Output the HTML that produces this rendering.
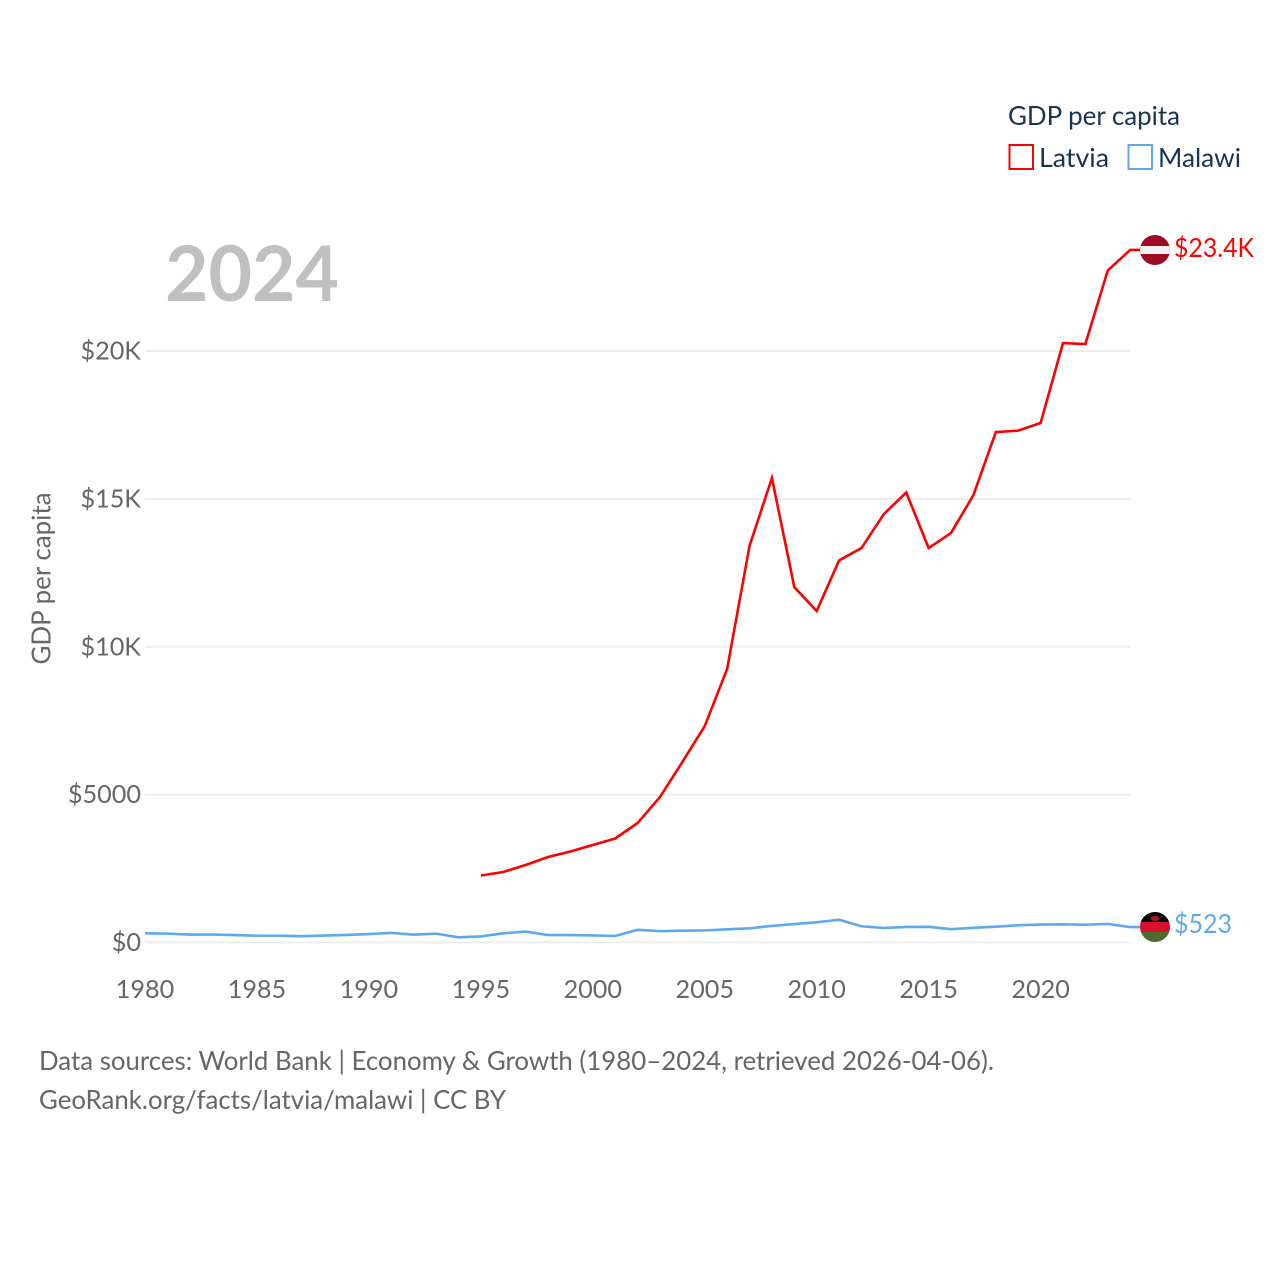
<!DOCTYPE html>
<html lang="en">
<head>
<meta charset="utf-8">
<title>GDP per capita: Latvia and Malawi</title>
<style>
html,body{margin:0;padding:0;background:#fff;}
svg{display:block;}
text{font-family:"Lato","Carlito","Liberation Sans",sans-serif;}
</style>
</head>
<body>
<svg id="chart" width="1280" height="1280" viewBox="0 0 1280 1280" xmlns="http://www.w3.org/2000/svg">
  <defs>
    <clipPath id="clip-lv"><circle cx="1155" cy="250" r="15"/></clipPath>
    <clipPath id="clip-mw"><circle cx="1155" cy="927" r="15"/></clipPath>
  </defs>
  <rect width="1280" height="1280" fill="#fff"/>
  <g id="grid"></g>
  <g id="yticks"></g>
  <g id="xticks"></g>
  <text transform="translate(50.5,664.5) rotate(-90)" font-size="26" fill="#666" textLength="172" lengthAdjust="spacingAndGlyphs">GDP per capita</text>
  <text x="165" y="301" font-size="77" font-weight="700" fill="#c0c0c0" textLength="174" lengthAdjust="spacingAndGlyphs">2024</text>
  <g id="series"></g>

  <g clip-path="url(#clip-lv)">
    <rect x="1140" y="235" width="30" height="30" fill="#9e0b25"/>
    <rect x="1140" y="246" width="30" height="8" fill="#f1f1f1"/>
  </g>
  <text x="1174" y="257" font-size="26" fill="#ff0000" textLength="80" lengthAdjust="spacingAndGlyphs">$23.4K</text>

  <g clip-path="url(#clip-mw)">
    <rect x="1140" y="912" width="30" height="10.5" fill="#000"/>
    <rect x="1140" y="922" width="30" height="10.5" fill="#d8102a"/>
    <rect x="1140" y="932" width="30" height="10" fill="#4e6a30"/>
    <ellipse cx="1155" cy="918.5" rx="4.5" ry="2.5" fill="#b5102a"/>
  </g>
  <text x="1174" y="933" font-size="26" fill="#5ea8ec" textLength="58" lengthAdjust="spacingAndGlyphs">$523</text>

  <g>
    <text x="1008" y="125" font-size="26" fill="#1a3354" textLength="172" lengthAdjust="spacingAndGlyphs">GDP per capita</text>
    <rect x="1009.5" y="145" width="23.5" height="24" fill="none" stroke="#ff0000" stroke-width="2"/>
    <text x="1039" y="167" font-size="26" fill="#1a3354" textLength="70" lengthAdjust="spacingAndGlyphs">Latvia</text>
    <rect x="1128.5" y="145" width="23.5" height="24" fill="none" stroke="#5ea8ec" stroke-width="2"/>
    <text x="1158" y="167" font-size="26" fill="#1a3354" textLength="83" lengthAdjust="spacingAndGlyphs">Malawi</text>
  </g>

  <text x="39" y="1070" font-size="26" fill="#666" textLength="955" lengthAdjust="spacingAndGlyphs">Data sources: World Bank | Economy &amp; Growth (1980–2024, retrieved 2026-04-06).</text>
  <a><text x="39" y="1109" font-size="26" fill="#666" textLength="467" lengthAdjust="spacingAndGlyphs">GeoRank.org/facts/latvia/malawi | CC BY</text></a>
</svg>
<script>
const yTickValues = [0, 5000, 10000, 15000, 20000];
const yTickLabels = ['$0', '$5000', '$10K', '$15K', '$20K'];
const xTickYears = [1980, 1985, 1990, 1995, 2000, 2005, 2010, 2015, 2020];
const xTickLabels = ['1980', '1985', '1990', '1995', '2000', '2005', '2010', '2015', '2020'];
const latviaYears = [1995, 1996, 1997, 1998, 1999, 2000, 2001, 2002, 2003, 2004, 2005, 2006, 2007, 2008, 2009, 2010, 2011, 2012, 2013, 2014, 2015, 2016, 2017, 2018, 2019, 2020, 2021, 2022, 2023, 2024];
const latviaValues = [2266, 2384, 2620, 2890, 3077, 3297, 3517, 4040, 4920, 6104, 7320, 9250, 13410, 15708, 12020, 11210, 12920, 13340, 14490, 15218, 13340, 13850, 15130, 17260, 17310, 17570, 20270, 20240, 22725, 23420];
const malawiYears = [1980, 1981, 1982, 1983, 1984, 1985, 1986, 1987, 1988, 1989, 1990, 1991, 1992, 1993, 1994, 1995, 1996, 1997, 1998, 1999, 2000, 2001, 2002, 2003, 2004, 2005, 2006, 2007, 2008, 2009, 2010, 2011, 2012, 2013, 2014, 2015, 2016, 2017, 2018, 2019, 2020, 2021, 2022, 2023, 2024];
const malawiValues = [310, 300, 270, 270, 250, 230, 228, 215, 235, 255, 285, 325, 265, 300, 175, 205, 310, 370, 250, 250, 240, 220, 430, 385, 400, 410, 445, 480, 560, 625, 685, 770, 550, 490, 525, 530, 450, 495, 535, 585, 605, 615, 600, 630, 523];

const NS = 'http://www.w3.org/2000/svg';
const xLeft = 145, xPerYear = 22.39, yZero = 942.5, yPerUnit = 0.02957;
function xScale(year) { return xLeft + (year - 1980) * xPerYear; }
function yScale(value) { return yZero - value * yPerUnit; }

const gridGroup = document.getElementById('grid');
const yTickGroup = document.getElementById('yticks');
const xTickGroup = document.getElementById('xticks');
const seriesGroup = document.getElementById('series');

yTickValues.forEach(function (value, i) {
  const line = document.createElementNS(NS, 'line');
  
  
  line.setAttribute('x1', xLeft);
  line.setAttribute('x2', 1130);
  line.setAttribute('y1', yScale(value));
  line.setAttribute('y2', yScale(value));
  line.setAttribute('stroke', '#eaeaea');
  line.setAttribute('stroke-width', '1.6');
  gridGroup.appendChild(line);

  const label = document.createElementNS(NS, 'text');
  
  
  label.setAttribute('x', 141);
  label.setAttribute('y', yScale(value) + 8.5);
  label.setAttribute('text-anchor', 'end');
  label.setAttribute('font-size', '25.2');
  label.setAttribute('fill', '#666');
  label.textContent = yTickLabels[i];
  yTickGroup.appendChild(label);
});

xTickYears.forEach(function (year, i) {
  const label = document.createElementNS(NS, 'text');
  
  
  label.setAttribute('x', xScale(year));
  label.setAttribute('y', 998);
  label.setAttribute('text-anchor', 'middle');
  label.setAttribute('font-size', '25.2');
  label.setAttribute('fill', '#666');
  label.textContent = xTickLabels[i];
  xTickGroup.appendChild(label);
});

function pathFor(years, values) {
  return values.map(function (value, i) {
    return (i ? 'L' : 'M') + xScale(years[i]).toFixed(2) + ' ' + yScale(value).toFixed(2);
  }).join(' ');
}

const latviaLine = document.createElementNS(NS, 'path');


latviaLine.setAttribute('d', pathFor(latviaYears, latviaValues) + ' h10');
latviaLine.setAttribute('fill', 'none');
latviaLine.setAttribute('stroke', '#ff0000');
latviaLine.setAttribute('stroke-width', '2.6');
seriesGroup.appendChild(latviaLine);

const malawiLine = document.createElementNS(NS, 'path');


malawiLine.setAttribute('d', pathFor(malawiYears, malawiValues) + ' h10');
malawiLine.setAttribute('fill', 'none');
malawiLine.setAttribute('stroke', '#5ea8ec');
malawiLine.setAttribute('stroke-width', '2.6');
seriesGroup.appendChild(malawiLine);
</script>
</body>
</html>
